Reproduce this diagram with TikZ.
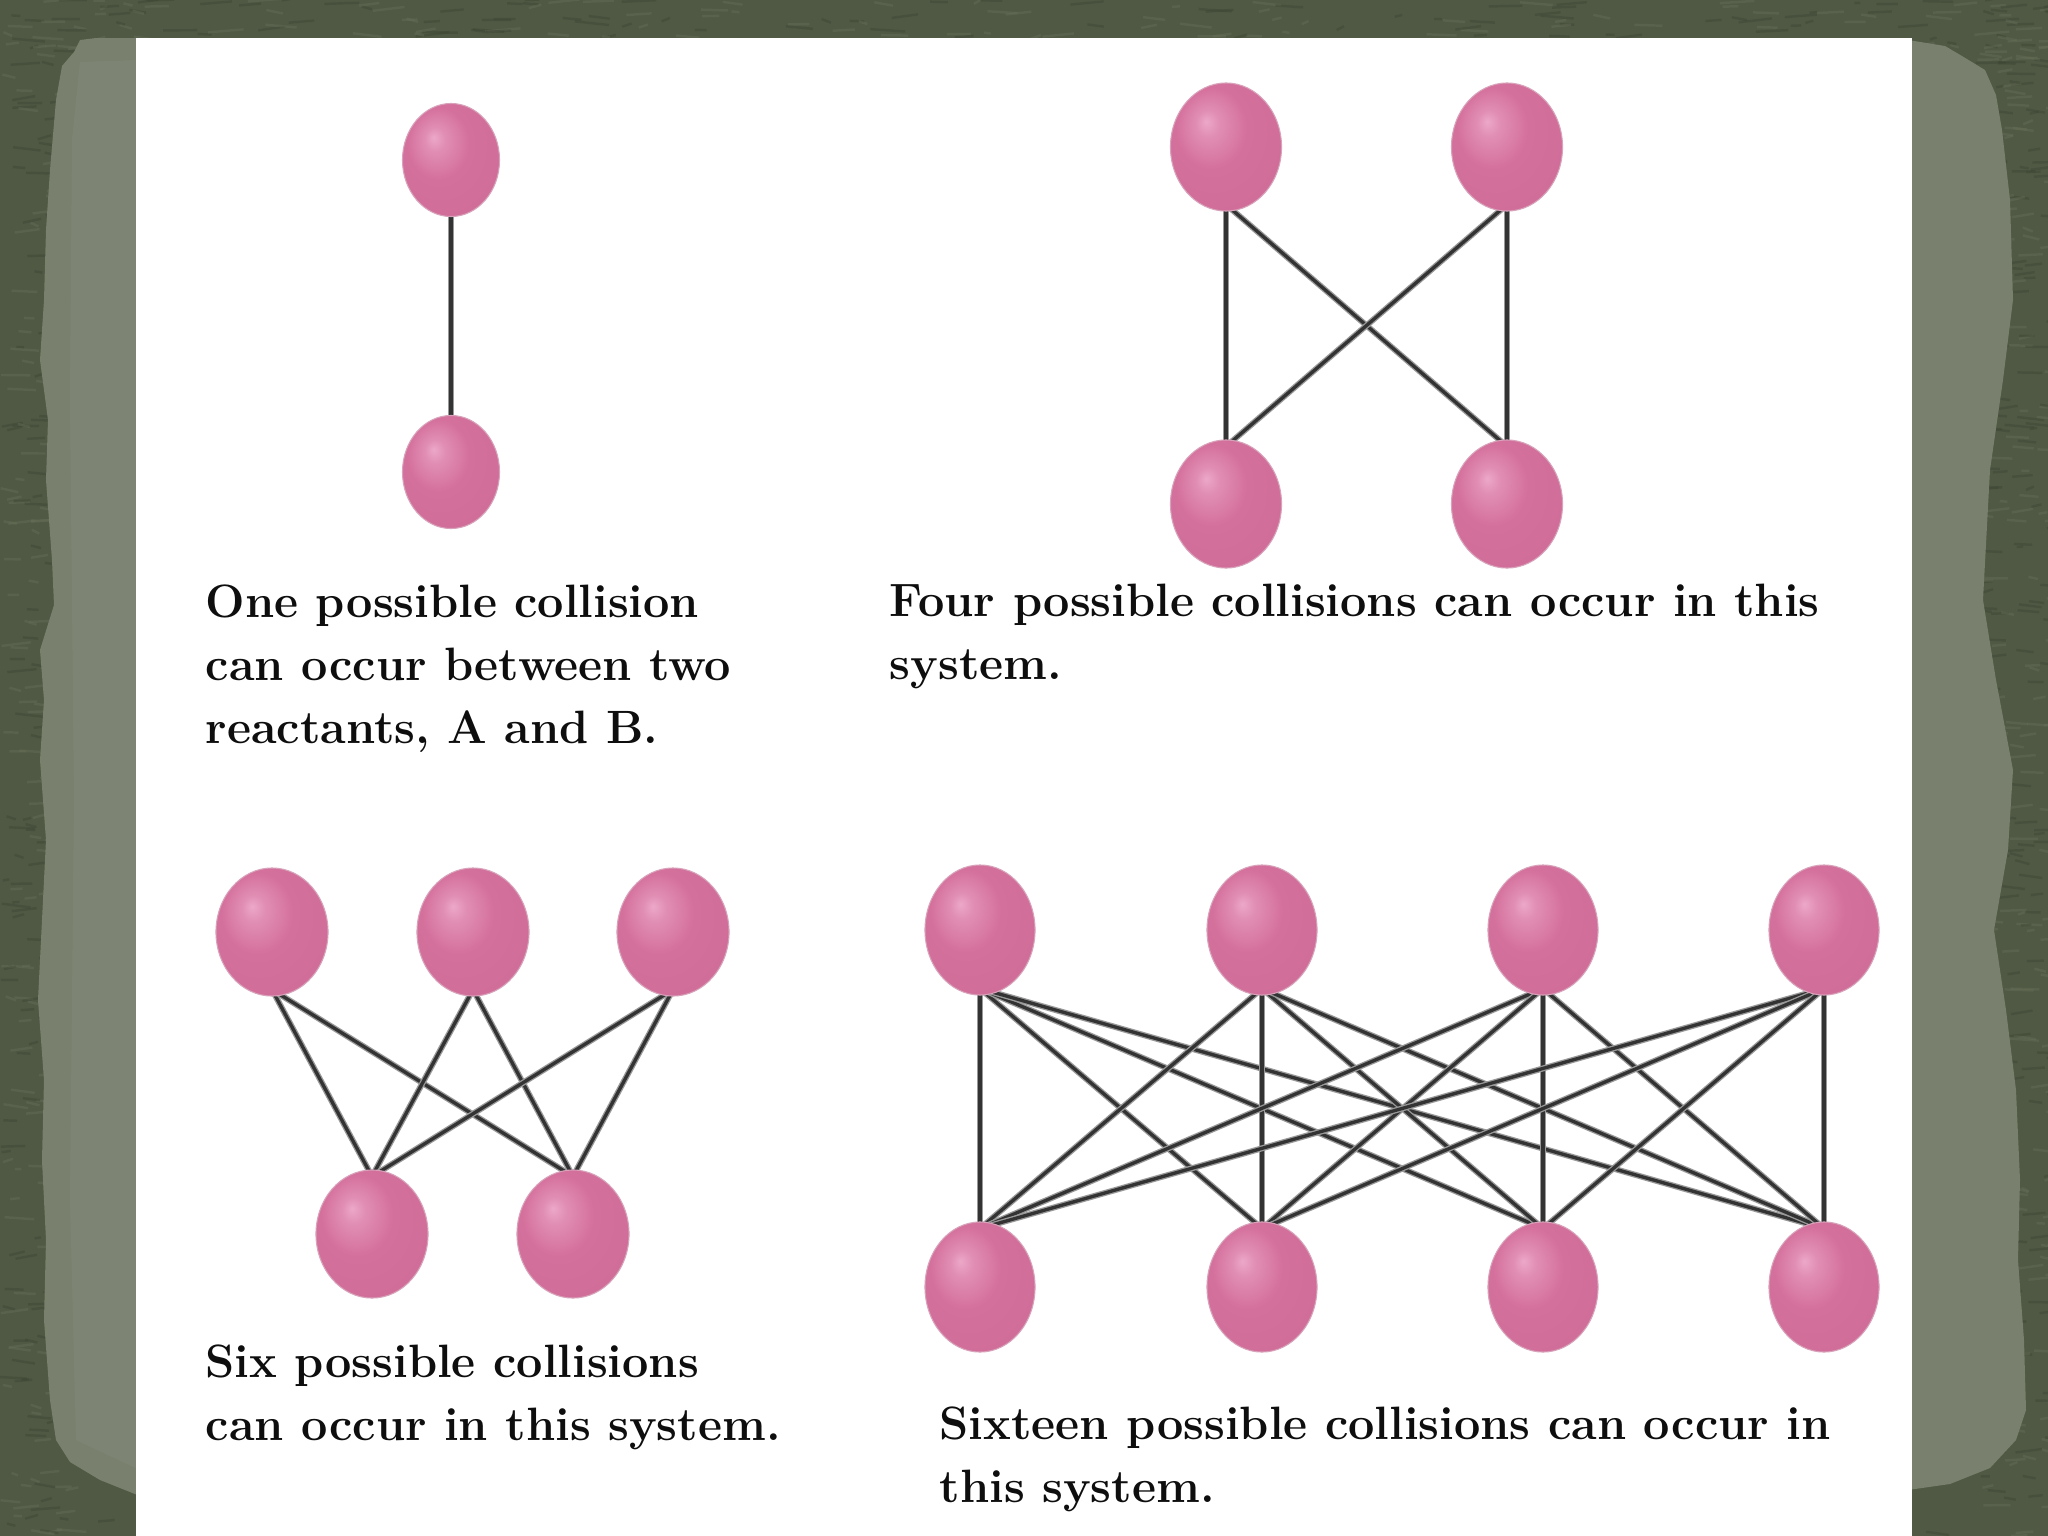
\documentclass[tikz,border=0pt]{standalone}
\usepackage{fontspec}
\usetikzlibrary{shapes.geometric}
\definecolor{bgdark}{RGB}{79,89,67}
\definecolor{bgdarker}{RGB}{60,68,50}
\definecolor{bglighter}{RGB}{104,112,90}
\definecolor{strip}{RGB}{122,128,110}
\definecolor{sphHi}{RGB}{236,168,200}
\definecolor{sphMid}{RGB}{212,112,156}
\definecolor{sphDark}{RGB}{176,86,126}
\definecolor{sphEdge}{RGB}{190,100,140}
\definecolor{captext}{RGB}{14,14,14}
\pgfdeclareradialshading{spherepink}{\pgfpoint{-9bp}{10bp}}{%
  color(0bp)=(sphHi); color(5bp)=(sphHi!55!sphMid); color(16bp)=(sphMid);
  color(36bp)=(sphMid!85!sphDark); color(50bp)=(sphDark); color(60bp)=(sphDark)}
\pgfdeclarelayer{bg}
\pgfdeclarelayer{lines}
\pgfsetlayers{bg,lines,main}
\begin{document}
\begin{tikzpicture}[x=0.01cm,y=-0.01cm,
  sph/.style={ellipse, inner sep=0pt, shading=spherepink, draw=sphEdge!60, line width=0.3pt},
  sphA/.style={sph, minimum width=0.97cm, minimum height=1.13cm},
  sphB/.style={sph, minimum width=1.11cm, minimum height=1.28cm},
  sphC/.style={sph, minimum width=1.12cm, minimum height=1.28cm},
  sphD/.style={sph, minimum width=1.10cm, minimum height=1.30cm},
  conn/.style={draw=black!80, line width=0.95pt, preaction={draw=black!40, line width=1.7pt}},
  captxt/.style={align=left, inner sep=0pt, text=captext,
    font=\fontsize{13.3}{17.9}\selectfont\bfseries}]
\useasboundingbox (0,0) rectangle (2048,1536);
\begin{pgfonlayer}{bg}
  \fill[bgdark] (0,0) rectangle (2048,1536);
  \pgfmathsetseed{4242}
  \foreach \i in {1,...,300}{
    \pgfmathsetmacro\xa{rnd*2048}\pgfmathsetmacro\ya{rnd*70}
    \pgfmathsetmacro\la{6+rnd*30}\pgfmathsetmacro\sl{(rnd-0.5)*8}
    \ifodd\i \def\cc{bgdarker}\else \def\cc{bglighter}\fi
    \draw[\cc, line width=0.7pt, opacity=0.4] (\xa,\ya) -- ++(\la,\sl);
  }
  \foreach \i in {1,...,300}{
    \pgfmathsetmacro\xa{rnd*70}\pgfmathsetmacro\ya{rnd*1536}
    \pgfmathsetmacro\la{6+rnd*24}\pgfmathsetmacro\sl{(rnd-0.5)*8}
    \ifodd\i \def\cc{bgdarker}\else \def\cc{bglighter}\fi
    \draw[\cc, line width=0.7pt, opacity=0.4] (\xa,\ya) -- ++(\la,\sl);
  }
  \foreach \i in {1,...,300}{
    \pgfmathsetmacro\xa{1975+rnd*73}\pgfmathsetmacro\ya{rnd*1536}
    \pgfmathsetmacro\la{6+rnd*24}\pgfmathsetmacro\sl{(rnd-0.5)*8}
    \ifodd\i \def\cc{bgdarker}\else \def\cc{bglighter}\fi
    \draw[\cc, line width=0.7pt, opacity=0.4] (\xa,\ya) -- ++(\la,\sl);
  }
  \foreach \i in {1,...,80}{
    \pgfmathsetmacro\xa{rnd*2048}\pgfmathsetmacro\ya{1460+rnd*76}
    \pgfmathsetmacro\la{6+rnd*24}\pgfmathsetmacro\sl{(rnd-0.5)*8}
    \ifodd\i \def\cc{bgdarker}\else \def\cc{bglighter}\fi
    \draw[\cc, line width=0.7pt, opacity=0.4] (\xa,\ya) -- ++(\la,\sl);
  }
  % left torn strip
  \fill[strip] (140,38) -- (96,38) -- (80,40) -- (74,52) -- (62,66) -- (56,100)
    -- (50,170) -- (46,230) -- (44,300) -- (40,360) -- (48,420) -- (46,480)
    -- (52,560) -- (54,605) -- (40,650) -- (44,700) -- (40,760) -- (46,840)
    -- (42,920) -- (38,1000) -- (44,1080) -- (42,1160) -- (46,1240) -- (44,1320)
    -- (50,1400) -- (56,1440) -- (70,1462) -- (100,1480) -- (140,1496) -- cycle;
  \fill[strip!92!white, opacity=0.45] (140,60) -- (80,62) -- (72,140) -- (70,400)
    -- (74,800) -- (70,1200) -- (76,1440) -- (140,1470) -- cycle;
  % right torn strip
  \fill[strip] (1908,40) -- (1945,46) -- (1962,56) -- (1985,70) -- (1996,95)
    -- (2002,130) -- (2010,200) -- (2013,300) -- (2003,380) -- (1990,470)
    -- (1983,600) -- (1996,680) -- (2013,770) -- (2008,850) -- (1994,930)
    -- (2006,1010) -- (2016,1090) -- (2020,1180) -- (2018,1260) -- (2024,1340)
    -- (2026,1410) -- (2016,1440) -- (1990,1468) -- (1950,1484) -- (1908,1490) -- cycle;
  % white panel
  \fill[white] (136,38) rectangle (1912,1536);
\end{pgfonlayer}

% panel 1
\node[sphA] (p1a) at (451,160) {};
\node[sphA] (p1b) at (451,472) {};
% panel 2
\node[sphB] (p2a) at (1226,147) {};
\node[sphB] (p2b) at (1507,147) {};
\node[sphB] (p2c) at (1226,504) {};
\node[sphB] (p2d) at (1507,504) {};
% panel 3
\node[sphC] (p3a) at (272,932) {};
\node[sphC] (p3b) at (473,932) {};
\node[sphC] (p3c) at (673,932) {};
\node[sphC] (p3d) at (372,1234) {};
\node[sphC] (p3e) at (573,1234) {};
% panel 4
\node[sphD] (p4a) at (980,930) {};
\node[sphD] (p4b) at (1262,930) {};
\node[sphD] (p4c) at (1543,930) {};
\node[sphD] (p4d) at (1824,930) {};
\node[sphD] (p4e) at (980,1287) {};
\node[sphD] (p4f) at (1262,1287) {};
\node[sphD] (p4g) at (1543,1287) {};
\node[sphD] (p4h) at (1824,1287) {};

\begin{pgfonlayer}{lines}
  \draw[conn] ([yshift=2pt]p1a.south) -- ([yshift=-2pt]p1b.north);
  \foreach \t in {p2a,p2b}{\foreach \b in {p2c,p2d}{
    \draw[conn] ([yshift=2pt]\t.south) -- ([yshift=-2pt]\b.north);}}
  \foreach \t in {p3a,p3b,p3c}{\foreach \b in {p3d,p3e}{
    \draw[conn] ([yshift=2pt]\t.south) -- ([yshift=-2pt]\b.north);}}
  \foreach \t in {p4a,p4b,p4c,p4d}{\foreach \b in {p4e,p4f,p4g,p4h}{
    \draw[conn] ([yshift=2pt]\t.south) -- ([yshift=-2pt]\b.north);}}
\end{pgfonlayer}

% anchor base = baseline of the last line
\node[captxt, anchor=base west] (t1) at (205,743) {One possible collision\\can occur between two\\reactants, A and B.};
\node[captxt, anchor=base west] (t2) at (889,679) {Four possible collisions can occur in this\\system.};
\node[captxt, anchor=base west] (t3) at (205,1440) {Six possible collisions\\can occur in this system.};
\node[captxt, anchor=base west] (t4) at (939,1502) {Sixteen possible collisions can occur in\\this system.};
\end{tikzpicture}
\end{document}
